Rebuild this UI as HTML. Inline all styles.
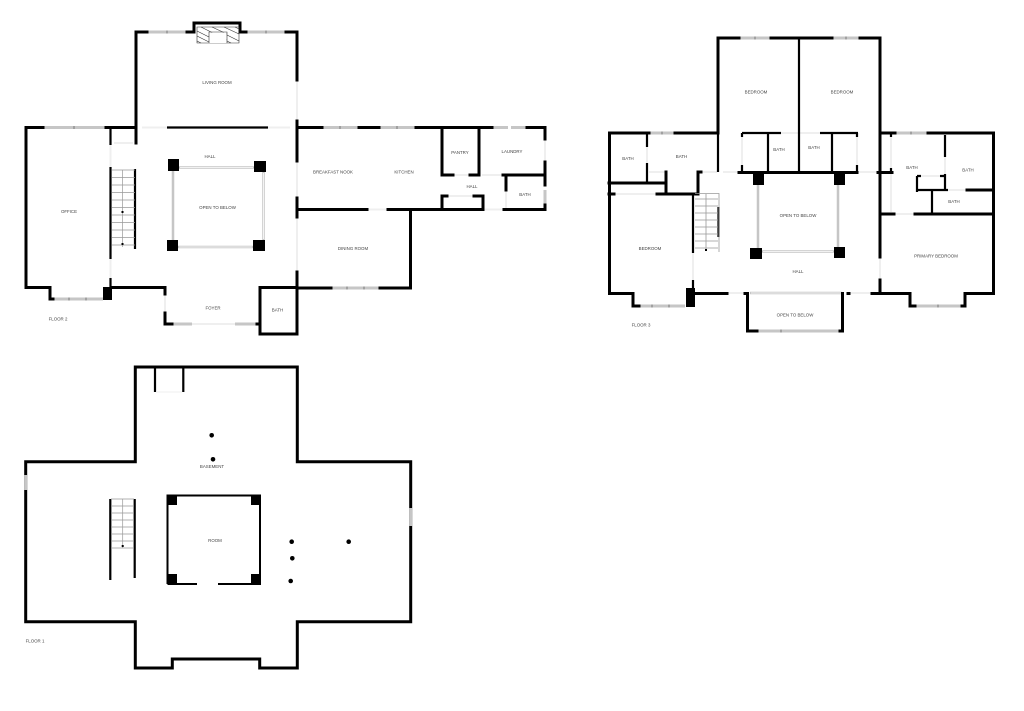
<!DOCTYPE html>
<html><head><meta charset="utf-8"><style>
html,body{margin:0;padding:0;background:#fff}
svg{display:block}
text{font-family:"Liberation Sans",sans-serif;font-size:4.4px;fill:#444;text-anchor:middle;dominant-baseline:middle}
.w{fill:none;stroke:#000;stroke-width:3;stroke-linecap:square}
.t{fill:none;stroke:#000;stroke-width:2.2;stroke-linecap:butt}
.g{fill:none;stroke:#c6c6c6;stroke-width:3}
.d{fill:none;stroke:#efefef;stroke-width:2}
.s{fill:none;stroke:#999;stroke-width:.7}
.h{fill:none;stroke:#333;stroke-width:.6}
.m{fill:none;stroke:#666;stroke-width:.8}
.k{fill:none;stroke:#000;stroke-width:1.4}
</style></head><body>
<svg width="1024" height="711" viewBox="0 0 1024 711" xmlns="http://www.w3.org/2000/svg">
<rect width="1024" height="711" fill="#fff"/>

<!-- FLOOR 2 -->
<path class="g" d="M43 127.500H106M147 32H187M246 32H286M53 299H103M172 324H192M235 324H257M322 127.500H359M379 127.500H416M492 127.500H508M511 127.500H527M545 190V205M331 288H380"/>
<path class="m" d="M74 126V129M167 30.500V33.500M266 30.500V33.500M69 297.500V300.500M86 297.500V300.500M340 126V129M397 126V129M347 286.500V289.500M364 286.500V289.500"/>
<path class="d" d="M192 324H235M297 80V121M297 161V198M297 217V272M142 127.500H167M268 127.500H290M367 209.500H388M483 209.500H503M453 175H470M482 175H502M447 196H474M545 139V162M506 190V208M165 294V313M260 294V313M114 143H133M110.500 145V167M110.500 259V278"/>
<path class="w" d="M136 127.500V32H147M187 32H194V23H240V32H246M286 32H297V80M43 127.500H26V287.500H50V299H53M112 287.500H165V294M165 313V324H172M257 324H260V313M260 334H297V287.500H260V334M297 121V161M297 198V217M297 272V287M106 127.500H136M136 127.500V143M297 127.500H322M359 127.500H379M416 127.500H492M527 127.500H545V139M545 162V185M545 205V209.500H504M297 209.500H367M388 209.500H483M410.500 209.500V288H380M331 288H297M442 127.500V175M479 127.500V175M442 175H453M470 175H478M503 175H545M506 175V190M442 196V209M442 196H447M474 196H483V209"/>
<path class="t" d="M167 127.500H268M110.500 127.500V145M110.500 167V259M110.500 278V287M135 169V249"/>
<rect x="103" y="287" width="9" height="13"/>
<rect x="168" y="159" width="11" height="12"/><rect x="254" y="161" width="12" height="11"/><rect x="167" y="240" width="11" height="11"/><rect x="253" y="240" width="12" height="11"/>
<path class="g" style="stroke-width:2.500" d="M173 171V240M179 167.500H254M178 247H253M263.500 172V240"/>
<path d="M180 167.500H253M179 247H252M263.500 173V239" stroke="#fff" stroke-width=".8" fill="none"/>
<!-- fireplace -->
<g class="h"><path d="M197 27H239V43H197ZM209 32H227V43H209Z" fill="none"/><path d="M197 31L209 37M197 36L209 42M197 41L201 43M201 27L227 40M212 27L227 34M224 27L239 34M227 35L239 41M227 41L231 43M235 27L239 29"/></g>
<rect x="209.500" y="32.500" width="17" height="10.500" fill="#fff"/>
<!-- stairs F2 -->
<path class="s" d="M122.500 170V247M112 170H135M112 177.500H135M112 185H135M112 192.500H135M112 200H135M112 207.500H135M112 215H135M112 222.500H135M112 230H135M112 237.500H135M112 245H135"/>
<rect x="121.500" y="211" width="2" height="2"/><rect x="121.500" y="243" width="2" height="2"/>

<text x="217" y="83">LIVING ROOM</text><text x="210" y="157">HALL</text><text x="69" y="212">OFFICE</text><text x="217.500" y="208">OPEN TO BELOW</text><text x="213" y="308.500">FOYER</text><text x="277.500" y="310.500">BATH</text><text x="58" y="319.500">FLOOR 2</text><text x="333" y="172.500">BREAKFAST NOOK</text><text x="404" y="172.500">KITCHEN</text><text x="460" y="153">PANTRY</text><text x="512" y="152">LAUNDRY</text><text x="472" y="187">HALL</text><text x="525" y="195">BATH</text><text x="353" y="249">DINING ROOM</text>

<!-- FLOOR 3 -->
<path class="g" d="M739 38H771M832 38H860M649 133H675M895 133H928M639 306H685M915 306H962M757 331H840"/>
<path class="m" d="M755 36.500V39.500M846 36.500V39.500M662 131.500V134.500M911 131.500V134.500M652 304.500V307.500M669 304.500V307.500M938 304.500V307.500M781 329.500V332.500"/>
<path class="g" style="stroke-width:2.500" d="M758 185V248M838 185V247M762 251.500H834M750 293H842"/>
<path d="M763 251.500H833M751 293H841" stroke="#fff" stroke-width=".8" fill="none"/>
<path class="d" d="M615 194H657M647 147V163M649 172H665M702 172H717M723 172H739M727 293H745M849 293H872M858 172H877M781 133H820M742 137V165M857 137V165M891 137V168M891 174V212M894 214H915M948 190H967M921 176H940M945 157V174M880 257V280M693 253V280"/>
<path class="w" d="M718 133V38H739M771 38H832M860 38H880V133M649 133H609.500V293.500H633V306H639M675 133H718M895 133H880M928 133H993.500V293.500H965V306H962M915 306H910V293.500H872M849 293.500H848M842.500 293.500V331H840M757 331H747.500V293.500H745M727 293.500H695M609 183H665M666 172V193M657 194H698V172H701M609 194H614M739 172.500H857M878 172.500H892M880 133V257M880 280V293M880 214H894M915 214H993M967 190H993"/>
<path class="t" d="M799 38V172M768 133V172M832 133V172M742 133H781M820 133H858M742 133V137M742 165V172M857 133V137M857 165V172M718 133V172M647 133V147M647 163V183M693 195V253M693 280V293M718.500 207V237M932 191V214M917 190H948M917 176V192M917 176H921M940 176H946M945 174V190M945 135V157M891 133V137M891 168V174"/>
<rect x="686" y="288" width="9" height="19"/>
<rect x="753" y="173" width="11" height="12"/><rect x="834" y="173" width="11" height="12"/><rect x="750" y="248" width="12" height="11"/><rect x="834" y="247" width="11" height="11"/>
<!-- stairs F3 -->
<path class="s" style="stroke-width:.8" d="M695 193.500H719V252M706 194V250M695 199H718M695 206H718M695 213H718M695 220H718M695 227H718M695 234H718M695 241H718M695 248H718"/>
<rect x="705" y="249" width="2" height="2"/>

<text x="756" y="92.500">BEDROOM</text><text x="842" y="92.500">BEDROOM</text><text x="628" y="159">BATH</text><text x="681.500" y="157">BATH</text><text x="650" y="249">BEDROOM</text><text x="779" y="150">BATH</text><text x="814" y="148">BATH</text><text x="798" y="216">OPEN TO BELOW</text><text x="798" y="272">HALL</text><text x="795" y="315.500">OPEN TO BELOW</text><text x="641" y="325.500">FLOOR 3</text><text x="912" y="168">BATH</text><text x="968" y="170.500">BATH</text><text x="954" y="202">BATH</text><text x="936" y="256.500">PRIMARY BEDROOM</text>

<!-- FLOOR 1 -->
<path d="M135.300 367H297.300V461.700H410.700V621.700H297.300V668H259.700V659H172.300V668H135.300V621.700H25.700V461.700H135.300Z" class="w"/>
<path class="g" style="stroke-width:3.200" d="M25.700 475V490M410.700 508V526"/>
<path class="t" d="M155 367V392M183.300 367V392M110.300 499V580M134.700 499V578"/>
<path class="d" style="stroke-width:1" d="M156 392H182"/>
<path class="t" style="stroke-width:2" d="M167.500 584V495.500H260V584H218M197 584H167.500"/>
<rect x="167" y="495" width="10" height="10"/><rect x="251" y="495" width="10" height="10"/><rect x="167" y="574" width="10" height="10"/><rect x="251" y="574" width="10" height="10"/>
<path class="s" d="M122.700 499V548M111 499H134M111 506H134M111 513H134M111 520H134M111 527H134M111 534H134M111 541H134M111 548H134"/>
<rect x="121.700" y="545" width="2" height="2"/>
<circle cx="211.700" cy="435.300" r="2.300"/><circle cx="213" cy="459.300" r="2.300"/><circle cx="291.700" cy="541.700" r="2.300"/><circle cx="292.300" cy="558.300" r="2.300"/><circle cx="290.700" cy="581" r="2.300"/><circle cx="348.700" cy="541.700" r="2.300"/>
<text x="212" y="467">BASEMENT</text><text x="215" y="541">ROOM</text><text x="35" y="641.500">FLOOR 1</text>
</svg>
</body></html>
